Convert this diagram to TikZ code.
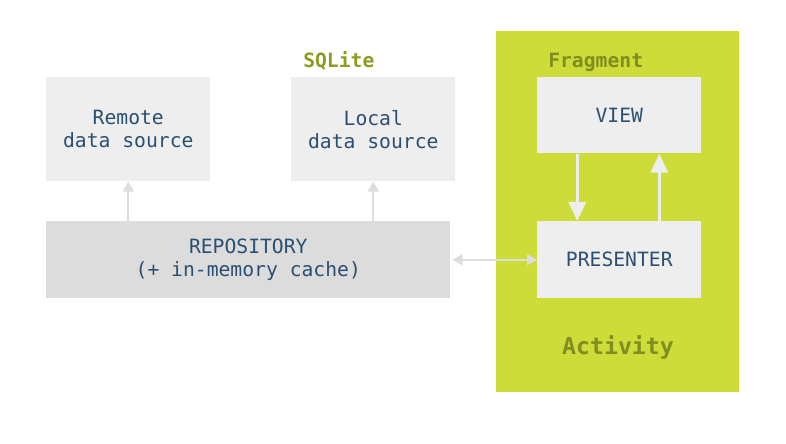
\documentclass[tikz,border=0pt]{standalone}
\usepackage{fontspec}
\setmonofont{DejaVu Sans Mono}
\usetikzlibrary{arrows.meta}
\definecolor{boxgray}{HTML}{EEEEEE}
\definecolor{repogray}{HTML}{DCDCDC}
\definecolor{limegreen}{HTML}{CDDC39}
\definecolor{olivetext}{HTML}{7F8E1E}
\definecolor{sqlolive}{HTML}{8C9C22}
\definecolor{textblue}{HTML}{2B4F72}
\definecolor{arrowgray}{HTML}{DDDDDD}
\newcommand{\px}{0.025cm}

\begin{document}
\begin{tikzpicture}[rect/.style={fill=boxgray, rectangle, anchor=north west, minimum width=164*\px, inner sep=0pt, align=center, text=textblue, font=\ttfamily\fontsize{14}{16.5}\selectfont},
    tag/.style={anchor=base west, inner sep=0pt, font=\ttfamily\bfseries\fontsize{14}{16.5}\selectfont},
    thin arrow/.style={draw=arrowgray, line width=2*\px, -{Triangle[length=10*\px, width=11*\px]}},
    thick arrow/.style={draw=boxgray, line width=3.5*\px, -{Triangle[length=19*\px, width=17*\px]}}]
    \useasboundingbox (0,0) rectangle (786*\px,-444*\px);

    % Activity
    \fill[limegreen] (496*\px,-31*\px) rectangle (739*\px,-392*\px);
    \node[tag, anchor=base, text=olivetext, font=\ttfamily\bfseries\fontsize{16.5}{19}\selectfont] (activity) at (618*\px,-355*\px) {Activity};
    \node[tag, text=olivetext] (fragment) at (548*\px,-68*\px) {Fragment};

    % Data sources
    \node[rect, minimum height=104*\px] (rect-remote) at (46*\px,-77*\px) {Remote\\data source};
    \node[rect, minimum height=104*\px] (rect-local) at (291*\px,-77*\px) {Local\\data source};
    \node[tag, text=sqlolive] (sqlite) at (303*\px,-68*\px) {SQLite};

    % Repository
    \node[rect, fill=repogray, minimum width=404*\px, minimum height=77*\px] (rect-repo) at (46*\px,-221*\px) {REPOSITORY\\(+ in-memory cache)};

    % View and presenter
    \node[rect, minimum height=76*\px] (rect-view) at (537*\px,-77*\px) {VIEW};
    \node[rect, minimum height=77*\px] (rect-presenter) at (537*\px,-221*\px) {PRESENTER};

    % Arrows
    \draw[thin arrow] (rect-repo.north -| rect-remote.south) -- (rect-remote.south);
    \draw[thin arrow] (rect-repo.north -| rect-local.south) -- (rect-local.south);
    \draw[thin arrow, {Triangle[length=10*\px, width=11*\px]}-{Triangle[length=10*\px, width=11*\px]}, shorten <=2*\px] (rect-repo.east) -- (rect-presenter.west);
    \draw[thick arrow] ([xshift=-42*\px]rect-view.south) -- ([xshift=-42*\px]rect-presenter.north);
    \draw[thick arrow] ([xshift=40*\px]rect-presenter.north) -- ([xshift=40*\px]rect-view.south);

\end{tikzpicture}
\end{document}
